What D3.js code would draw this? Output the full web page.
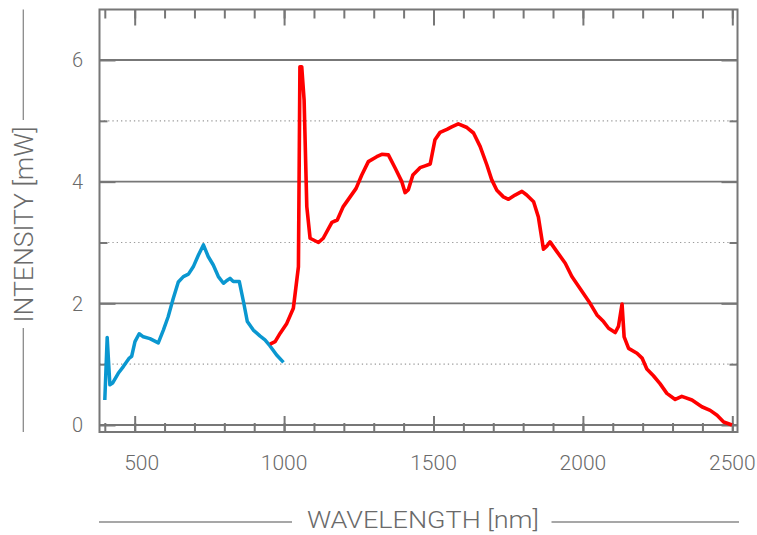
<!DOCTYPE html>
<html>
<head>
<meta charset="utf-8">
<script src="https://cdn.jsdelivr.net/npm/d3@7/dist/d3.min.js"></script>
<style>
  html, body { margin: 0; padding: 0; background: #fff; }
  svg { display: block; }
  text { font-family: Roboto, "Open Sans", sans-serif; font-weight: 300; fill: #6a6a6a; }
</style>
</head>
<body>
<svg id="chart" width="757" height="535"></svg>
<script>
// ---- data ----
const blueWavelength = [400, 408, 417, 426, 445, 462, 482, 490, 501, 515, 529, 551, 579, 596, 612, 629, 646, 663, 680, 696, 713, 730, 746, 763, 780, 797, 810, 819, 830, 850, 864, 877, 897, 920, 936, 953, 975, 998];
const blueIntensity  = [0.41, 1.44, 0.66, 0.69, 0.85, 0.96, 1.10, 1.13, 1.37, 1.50, 1.45, 1.42, 1.35, 1.56, 1.78, 2.08, 2.35, 2.44, 2.48, 2.60, 2.79, 2.96, 2.77, 2.63, 2.44, 2.33, 2.38, 2.41, 2.36, 2.36, 2.03, 1.70, 1.56, 1.46, 1.40, 1.30, 1.15, 1.03];

const redWavelength = [953, 970, 987, 1009, 1031, 1048, 1053, 1059, 1067, 1076, 1087, 1115, 1131, 1160, 1178, 1198, 1221, 1241, 1260, 1282, 1310, 1327, 1349, 1372, 1394, 1405, 1416, 1431, 1455, 1472, 1489, 1505, 1522, 1545, 1561, 1583, 1612, 1634, 1656, 1679, 1695, 1712, 1734, 1751, 1773, 1796, 1812, 1835, 1851, 1868, 1879, 1890, 1913, 1941, 1963, 1991, 2024, 2047, 2069, 2086, 2108, 2119, 2131, 2138, 2153, 2181, 2198, 2214, 2236, 2258, 2281, 2309, 2331, 2365, 2398, 2426, 2449, 2471, 2499];
const redIntensity  = [1.33, 1.37, 1.51, 1.67, 1.92, 2.60, 5.89, 5.89, 5.34, 3.59, 3.07, 3.00, 3.07, 3.33, 3.37, 3.59, 3.75, 3.89, 4.11, 4.33, 4.41, 4.45, 4.44, 4.22, 4.00, 3.82, 3.87, 4.11, 4.23, 4.26, 4.29, 4.69, 4.81, 4.86, 4.90, 4.95, 4.89, 4.80, 4.58, 4.27, 4.03, 3.86, 3.75, 3.71, 3.78, 3.84, 3.78, 3.67, 3.42, 2.89, 2.94, 3.01, 2.85, 2.66, 2.44, 2.24, 2.00, 1.81, 1.70, 1.59, 1.52, 1.62, 1.99, 1.45, 1.26, 1.18, 1.10, 0.92, 0.81, 0.68, 0.52, 0.42, 0.47, 0.41, 0.30, 0.24, 0.16, 0.05, 0.00];

const xMajorTicks = [500, 1000, 1500, 2000, 2500];
const xMinorTicks = d3.range(400, 2501, 100);
const yMajorTicks = [0, 2, 4, 6];
const yMinorTicks = [1, 3, 5];
const xTitle = "WAVELENGTH [nm]";
const yTitle = "INTENSITY [mW]";

// ---- layout ----
const L = 99.5, R = 737.5, T = 9.5, B = 432;
const svg = d3.select("#chart");

const x = d3.scaleLinear().domain([400, 2500]).range([104.8, 732.3]);
const y = d3.scaleLinear().domain([0, 6]).range([425, 60]);

const axisColor = "#777";

// gridlines
svg.append("g").selectAll("line").data(yMinorTicks).join("line")
  .attr("x1", L).attr("x2", R)
  .attr("y1", d => y(d)).attr("y2", d => y(d))
  .attr("stroke", "#9a9a9a").attr("stroke-width", 1.2)
  .attr("stroke-dasharray", "1.3,3");
svg.append("g").selectAll("line").data(yMajorTicks).join("line")
  .attr("x1", L).attr("x2", R)
  .attr("y1", d => y(d)).attr("y2", d => y(d))
  .attr("stroke", axisColor).attr("stroke-width", 1.8);

// axes (ticks inward)
function styleAxis(g) {
  g.select(".domain").remove();
  g.selectAll(".tick line").attr("stroke", axisColor).attr("stroke-width", 2);
  g.selectAll(".tick text").remove();
}
svg.append("g").attr("transform", `translate(0,${B})`)
  .call(d3.axisTop(x).tickValues(xMinorTicks).tickSize(9)).call(styleAxis);
svg.append("g").attr("transform", `translate(0,${B})`)
  .call(d3.axisTop(x).tickValues(xMajorTicks).tickSize(16)).call(styleAxis);
svg.append("g").attr("transform", `translate(0,${T})`)
  .call(d3.axisBottom(x).tickValues(xMinorTicks).tickSize(9)).call(styleAxis);
svg.append("g").attr("transform", `translate(0,${T})`)
  .call(d3.axisBottom(x).tickValues(xMajorTicks).tickSize(16)).call(styleAxis);

svg.append("g").attr("transform", `translate(${L},0)`)
  .call(d3.axisRight(y).tickValues(yMinorTicks).tickSize(8)).call(styleAxis);
svg.append("g").attr("transform", `translate(${L},0)`)
  .call(d3.axisRight(y).tickValues(yMajorTicks).tickSize(16)).call(styleAxis);
svg.append("g").attr("transform", `translate(${R},0)`)
  .call(d3.axisLeft(y).tickValues(yMinorTicks).tickSize(8)).call(styleAxis);
svg.append("g").attr("transform", `translate(${R},0)`)
  .call(d3.axisLeft(y).tickValues(yMajorTicks).tickSize(16)).call(styleAxis);

// frame
svg.append("rect").attr("x", L).attr("y", T).attr("width", R - L).attr("height", B - T)
  .attr("fill", "none").attr("stroke", axisColor).attr("stroke-width", 2);

// tick labels
svg.append("g").selectAll("text").data(xMajorTicks).join("text")
  .attr("x", d => x(d) + (d === 500 ? 7 : 0)).attr("y", 470)
  .attr("text-anchor", "middle").attr("font-size", 21)
  .text(d => d);
svg.append("g").selectAll("text").data(yMajorTicks).join("text")
  .attr("x", 83).attr("y", d => y(d)).attr("dy", "0.36em")
  .attr("text-anchor", "end").attr("font-size", 20)
  .text(d => d);

// series
const line = d3.line().x(d => x(d[0])).y(d => y(d[1]));
svg.append("path").datum(d3.zip(blueWavelength, blueIntensity))
  .attr("d", line).attr("fill", "none").attr("stroke", "#0a97d0")
  .attr("stroke-width", 3.5).attr("stroke-linejoin", "round");
svg.append("path").datum(d3.zip(redWavelength, redIntensity))
  .attr("d", line).attr("fill", "none").attr("stroke", "#ff0000")
  .attr("stroke-width", 3.6).attr("stroke-linejoin", "round");

// axis titles
const titleColor = "#8a8a8a";
svg.append("text").attr("x", 423).attr("y", 528).attr("text-anchor", "middle")
  .attr("font-size", 24).attr("textLength", 232).attr("lengthAdjust", "spacingAndGlyphs")
  .text(xTitle);
svg.append("line").attr("x1", 99).attr("x2", 292).attr("y1", 522).attr("y2", 522)
  .attr("stroke", titleColor).attr("stroke-width", 1.3);
svg.append("line").attr("x1", 551.5).attr("x2", 739).attr("y1", 522).attr("y2", 522)
  .attr("stroke", titleColor).attr("stroke-width", 1.3);

svg.append("text").attr("transform", "translate(32.5,224.5) rotate(-90)")
  .attr("text-anchor", "middle").attr("font-size", 26)
  .attr("textLength", 196).attr("lengthAdjust", "spacingAndGlyphs").text(yTitle);
svg.append("line").attr("x1", 23.3).attr("x2", 23.3).attr("y1", 9.5).attr("y2", 120)
  .attr("stroke", titleColor).attr("stroke-width", 1.3);
svg.append("line").attr("x1", 23.3).attr("x2", 23.3).attr("y1", 328).attr("y2", 432)
  .attr("stroke", titleColor).attr("stroke-width", 1.3);
</script>
</body>
</html>
